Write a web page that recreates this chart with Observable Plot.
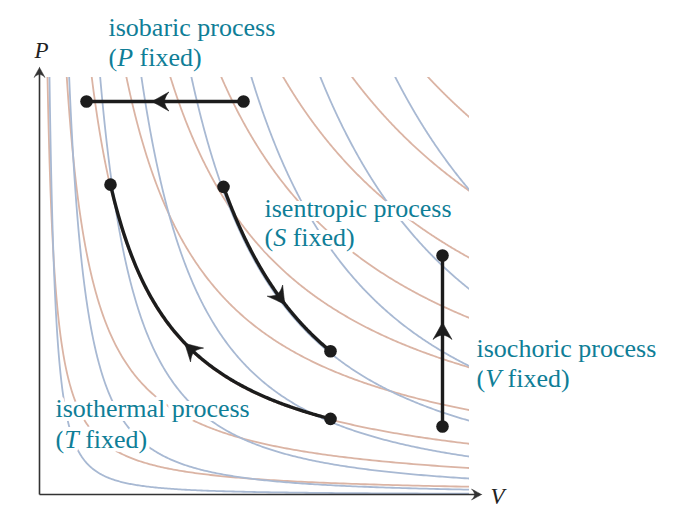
<!DOCTYPE html>
<html><head><meta charset="utf-8">
<script src="https://cdn.jsdelivr.net/npm/d3@7"></script>
<script src="https://cdn.jsdelivr.net/npm/@observablehq/plot@0.6"></script>
<style>body{margin:0;background:#fff}</style>
</head><body><div id="chart"></div>
<script>
// ---- data ----
// isotherms: P·V = T ; adiabats: P·V^γ = K
const isothermT = [0.334, 1.138, 2.181, 3.628, 5.463, 7.589, 10.175, 13.052, 16.22];
const adiabatK  = [0.0898, 0.551, 1.815, 4.31, 8.38, 14.59, 23.34, 34.61];
const gamma = 5 / 3;
const boxV = 4.30, boxP = 4.17;

// processes
const isobaricV = [2.04, 0.47], isobaricP = 3.93;
const isentropicV = [1.84, 2.91], isentropicK = 8.5;
const isothermalV = [2.91, 0.71], isothermalT = 2.2;
const isochoricV = 4.03, isochoricP = [0.68, 2.39];
const arrowFraction = {isobaric: 0.52, isentropic: 0.62, isothermal: 0.455, isochoric: 0.55};

// axes extents
const axisV = 4.42, axisP = 4.27;

// labels
const labelLines = [
  {text: "isobaric process", V: 0.69, P: 4.59},
  {text: "(P fixed)", V: 0.69, P: 4.29},
  {text: "isentropic process", V: 2.25, P: 2.78},
  {text: "(S fixed)", V: 2.25, P: 2.485},
  {text: "isochoric process", V: 4.37, P: 1.38},
  {text: "(V fixed)", V: 4.37, P: 1.08},
  {text: "isothermal process", V: 0.16, P: 0.78},
  {text: "(T fixed)", V: 0.16, P: 0.47}
];
const axisLabels = [
  {text: "P", V: 0.02, P: 4.37},
  {text: "V", V: 4.58, P: -0.09}
];

// ---- layout ----
const W = 676, H = 518, mL = 39, mR = 207, mT = 77, mB = 24;
const kx = (W - mL - mR) / boxV, ky = (H - mT - mB) / boxP; // px per unit

// ---- build curves ----
function geomRange(a, b, n) {
  const out = [];
  for (let i = 0; i <= n; i++) out.push(a * Math.pow(b / a, i / n));
  return out;
}
const curves = [];
isothermT.forEach((T, i) => {
  const v0 = T / 4.6;
  geomRange(v0, 4.4, 300).forEach(V => curves.push({id: "T" + i, kind: "isotherm", V, P: T / V}));
});
adiabatK.forEach((K, i) => {
  const v0 = Math.pow(K / 4.6, 1 / gamma);
  geomRange(v0, 4.4, 300).forEach(V => curves.push({id: "S" + i, kind: "adiabat", V, P: K / Math.pow(V, gamma)}));
});

// ---- process paths ----
function linspace(a, b, n) { const o = []; for (let i = 0; i <= n; i++) o.push(a + (b - a) * i / n); return o; }
const paths = {
  isobaric: linspace(isobaricV[0], isobaricV[1], 100).map(V => ({V, P: isobaricP})),
  isentropic: linspace(isentropicV[0], isentropicV[1], 200).map(V => ({V, P: isentropicK / Math.pow(V, gamma)})),
  isothermal: linspace(isothermalV[0], isothermalV[1], 200).map(V => ({V, P: isothermalT / V})),
  isochoric: linspace(isochoricP[0], isochoricP[1], 100).map(P => ({V: isochoricV, P}))
};

// arrowhead outlines in pixel offsets (pointing up, y down)
function quad(p0, c, p1, n) {
  const o = [];
  for (let i = 1; i <= n; i++) {
    const t = i / n, u = 1 - t;
    o.push([u * u * p0[0] + 2 * u * t * c[0] + t * t * p1[0], u * u * p0[1] + 2 * u * t * c[1] + t * t * p1[1]]);
  }
  return o;
}
function outline(tip, ctrlSide, wing, ctrlBack, notch) {
  const m = p => [-p[0], p[1]];
  return [tip,
    ...quad(tip, ctrlSide, wing, 8), ...quad(wing, ctrlBack, notch, 6),
    ...quad(notch, m(ctrlBack), m(wing), 6), ...quad(m(wing), m(ctrlSide), tip, 8)];
}
const bigHead = outline([0, -10], [-4.3, -2], [-9.5, 7], [-4.5, 3], [0, 2.6]);
const smallHead = outline([0, 0], [-2.8, 5], [-5.5, 10], [-2.5, 7], [0, 7]);
const heads = [];
function addHead(id, V, P, angle, shape) {
  const th = angle * Math.PI / 180, c = Math.cos(th), s = Math.sin(th);
  shape.forEach(([sx, sy]) => {
    const x = sx * c - sy * s, y = sx * s + sy * c;
    heads.push({id, V: V + x / kx, P: P - y / ky});
  });
}

const pathPts = [], endPts = [];
for (const [id, pts] of Object.entries(paths)) {
  pts.forEach(p => pathPts.push({id, ...p}));
  endPts.push(pts[0], pts[pts.length - 1]);
  const px = p => [p.V * kx, -p.P * ky];
  const cum = [0];
  for (let i = 1; i < pts.length; i++) {
    const a = px(pts[i - 1]), b = px(pts[i]);
    cum.push(cum[i - 1] + Math.hypot(b[0] - a[0], b[1] - a[1]));
  }
  const target = cum[cum.length - 1] * arrowFraction[id];
  let k = 1; while (k < pts.length - 1 && cum[k] < target) k++;
  const a = pts[k - 1], b = pts[k];
  const t = (target - cum[k - 1]) / (cum[k] - cum[k - 1]);
  const dx = (b.V - a.V) * kx, dy = -(b.P - a.P) * ky;
  addHead("h-" + id, a.V + t * (b.V - a.V), a.P + t * (b.P - a.P), Math.atan2(dx, -dy) * 180 / Math.PI, bigHead);
}
addHead("ax-P", 0, axisP, 0, smallHead);
addHead("ax-V", axisV, 0, 90, smallHead);
const axisLines = [{V1: 0, V2: axisV - 0.05, P1: 0, P2: 0}, {V1: 0, V2: 0, P1: 0, P2: axisP - 0.05}];

const teal = "#0f7e97", ink = "#1c1c1c";
const serif = "'Liberation Serif', 'Times New Roman', serif";

const plot = Plot.plot({
  width: W, height: H,
  marginLeft: mL, marginRight: mR, marginTop: mT, marginBottom: mB,
  x: {domain: [0, boxV], axis: null},
  y: {domain: [0, boxP], axis: null},
  style: {background: "#fff", overflow: "visible"},
  marks: [
    Plot.line(curves.filter(d => d.kind === "isotherm"), {x: "V", y: "P", z: "id", stroke: "#dbb4a4", strokeWidth: 1.8, clip: true}),
    Plot.line(curves.filter(d => d.kind === "adiabat"), {x: "V", y: "P", z: "id", stroke: "#a8b9d3", strokeWidth: 1.8, clip: true}),
    Plot.link(axisLines, {x1: "V1", x2: "V2", y1: "P1", y2: "P2", stroke: "#333", strokeWidth: 1.6}),
    Plot.line(heads.filter(d => d.id.startsWith("ax")), {x: "V", y: "P", z: "id", fill: "#333", stroke: "#333", strokeWidth: 0.5, curve: "linear-closed"}),
    Plot.text(labelLines, {x: "V", y: "P", text: "text", textAnchor: "start", lineAnchor: "bottom",
      fill: teal, stroke: "white", strokeWidth: 8, strokeLinejoin: "round", paintOrder: "stroke",
      fontFamily: serif, fontSize: 26}),
    Plot.text(axisLabels, {x: "V", y: "P", text: "text", textAnchor: "middle", lineAnchor: "bottom",
      fill: "#222", fontFamily: serif, fontSize: 23, fontStyle: "italic"}),
    Plot.line(pathPts, {x: "V", y: "P", z: "id", stroke: ink, strokeWidth: 3.4, strokeLinecap: "round"}),
    Plot.line(heads.filter(d => d.id.startsWith("h-")), {x: "V", y: "P", z: "id", fill: ink, stroke: ink, strokeWidth: 0.6, strokeLinejoin: "round", curve: "linear-closed"}),
    Plot.dot(endPts, {x: "V", y: "P", r: 6.3, fill: ink, stroke: null})
  ]
});

plot.querySelectorAll("text").forEach(t => {
  const m = /^\(([PSTV]) fixed\)$/.exec(t.textContent);
  if (m) {
    t.textContent = "";
    const ns = "http://www.w3.org/2000/svg";
    t.appendChild(document.createTextNode("("));
    const it = document.createElementNS(ns, "tspan");
    it.setAttribute("font-style", "italic");
    it.textContent = m[1];
    t.appendChild(it);
    t.appendChild(document.createTextNode(" fixed)"));
  }
});
document.getElementById("chart").appendChild(plot);
</script>
</body></html>
